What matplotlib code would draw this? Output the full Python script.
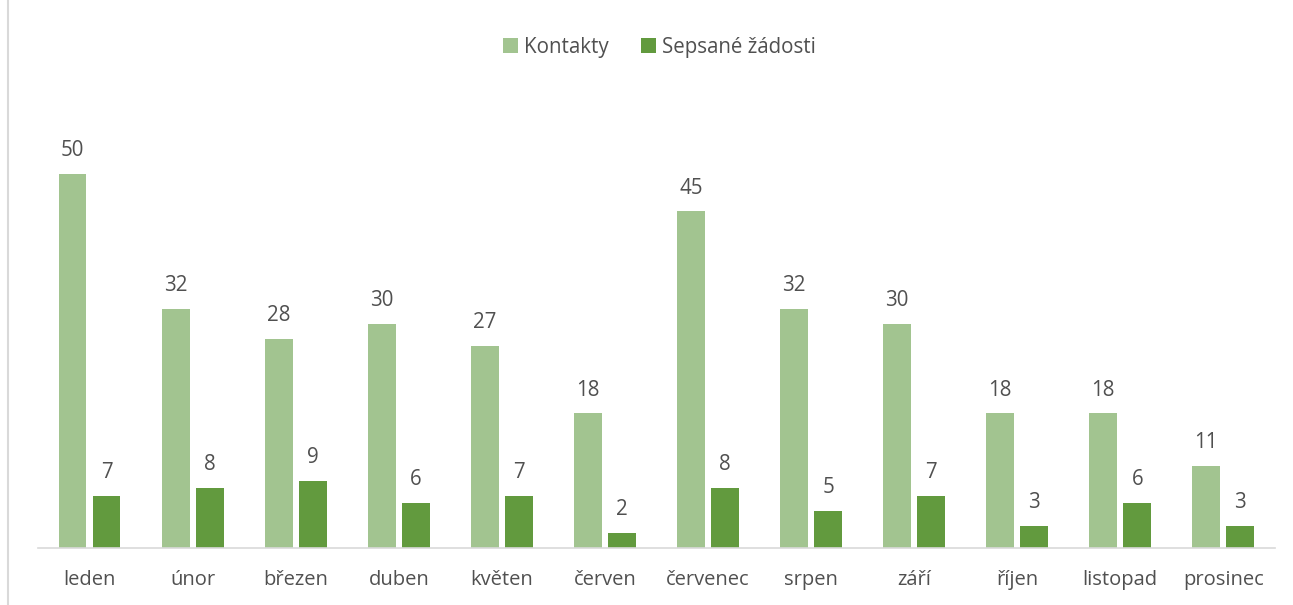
import numpy as np
import matplotlib.pyplot as plt
from matplotlib.lines import Line2D

plt.rcParams['font.family'] = ['Open Sans', 'DejaVu Sans']

months = ["leden", "únor", "březen", "duben", "květen", "červen",
          "červenec", "srpen", "září", "říjen", "listopad", "prosinec"]
kontakty = [50, 32, 28, 30, 27, 18, 45, 32, 30, 18, 18, 11]
zadosti = [7, 8, 9, 6, 7, 2, 8, 5, 7, 3, 6, 3]

light = "#A2C490"
dark = "#629A3E"
text_col = "#505050"

fig = plt.figure(figsize=(12.93, 6.05), dpi=100)
ax = fig.add_axes([0.0294, 0.0942, 0.9566, 0.742])

x = np.arange(len(months))
w = 0.27
b1 = ax.bar(x - 0.165, kontakty, w, color=light, label="Kontakty")
b2 = ax.bar(x + 0.165, zadosti, w, color=dark, label="Sepsané žádosti")

for bars in (b1, b2):
    for r in bars:
        ax.text(r.get_x() + r.get_width() / 2, r.get_height() + 1.7,
                f"{int(r.get_height())}", ha="center", va="bottom",
                fontsize=14.8, color=text_col)

ax.set_xlim(-0.5, len(months) - 0.5)
ax.set_ylim(0, 60)
ax.set_xticks(x)
ax.set_xticklabels(months, fontsize=14.5, color=text_col)
ax.tick_params(axis="x", length=0, pad=16)
ax.set_yticks([])
for s in ("top", "right", "left"):
    ax.spines[s].set_visible(False)
ax.spines["bottom"].set_color("#d9d9d9")
ax.spines["bottom"].set_linewidth(1.2)

fig.legend(handles=[b1, b2], loc="center", bbox_to_anchor=(0.51, 0.922),
           ncol=2, frameon=False, fontsize=14.8, handlelength=0.7,
           handleheight=0.7, handletextpad=0.3, columnspacing=1.6,
           labelcolor=text_col)

# left border of the chart area
fig.add_artist(Line2D([0.0065, 0.0065], [0, 1], color="#d9d9d9", lw=1.5,
                      transform=fig.transFigure))

fig.savefig("out.png", dpi=100)
